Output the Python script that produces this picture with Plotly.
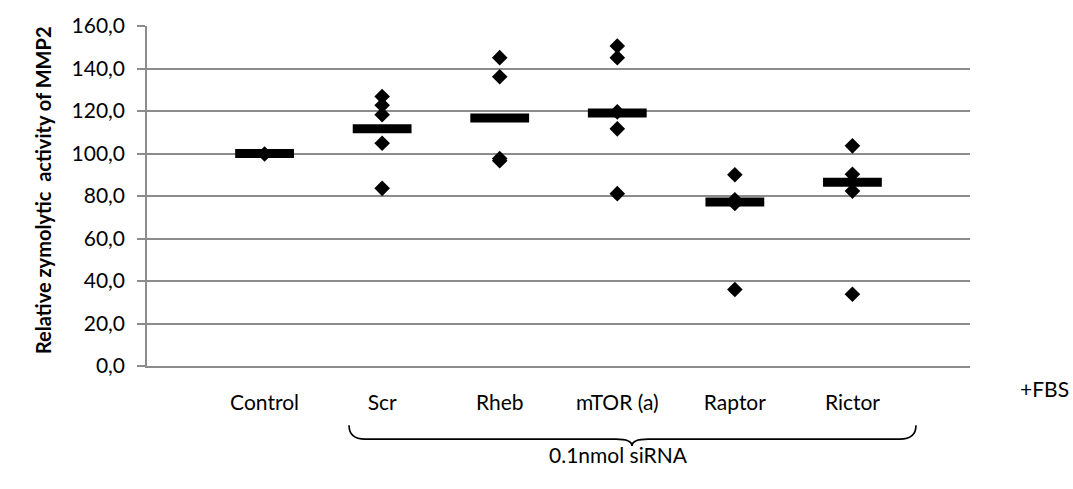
import plotly.graph_objects as go

# Groups shown on the x axis
categories = ["Control", "Scr", "Rheb", "mTOR (a)", "Raptor", "Rictor"]

# Individual measurements (relative zymolytic activity, % of control)
control_vals = [99.8]
scr_vals = [126.8, 122.7, 118.2, 104.8, 83.6]
rheb_vals = [145.1, 136.1, 97.6, 96.6]
mtor_vals = [150.6, 145.1, 119.6, 111.6, 81.1]
raptor_vals = [90.0, 78.2, 76.5, 36.0]
rictor_vals = [103.6, 90.2, 82.3, 33.8]

# Group means drawn as horizontal bars
mean_vals = [100.0, 111.6, 116.7, 119.1, 77.2, 86.5]

y_ticks = [0, 20, 40, 60, 80, 100, 120, 140, 160]

groups = [control_vals, scr_vals, rheb_vals, mtor_vals, raptor_vals, rictor_vals]
positions = list(range(1, len(categories) + 1))

pts_x, pts_y = [], []
for pos, vals in zip(positions, groups):
    pts_x.extend([pos] * len(vals))
    pts_y.extend(vals)

FONT = "Lato"
FS = 21
GRID = "#8c8c8c"

fig = go.Figure()

fig.add_trace(go.Scatter(
    x=positions, y=mean_vals, mode="markers",
    marker=dict(symbol="line-ew", size=42, color="black",
                line=dict(color="black", width=9)),
    hoverinfo="y", showlegend=False,
))

fig.add_trace(go.Scatter(
    x=pts_x, y=pts_y, mode="markers",
    marker=dict(symbol="diamond", size=12, color="black",
                line=dict(width=0)),
    showlegend=False,
))

# Plot-area geometry (pixels) used for the outer labels and brace
L, R, T, B = 147, 103, 22, 123
W, H = 1073, 489
pw, ph = W - L - R, H - T - B


def px(x):
    return (x - L) / pw


def py(y):
    return (H - B - y) / ph


# Curly brace under the siRNA groups
xl, xm, xr = 349, 632, 916
yt, yl, yb = 426, 440, 447
c = 16
brace = (
    f"M {px(xl)} {py(yt)} "
    f"Q {px(xl)} {py(yl)} {px(xl + c)} {py(yl)} "
    f"L {px(xm - c)} {py(yl)} "
    f"Q {px(xm)} {py(yl)} {px(xm)} {py(yb)} "
    f"Q {px(xm)} {py(yl)} {px(xm + c)} {py(yl)} "
    f"L {px(xr - c)} {py(yl)} "
    f"Q {px(xr)} {py(yl)} {px(xr)} {py(yt)}"
)
fig.add_shape(type="path", path=brace, xref="paper", yref="paper",
              line=dict(color="black", width=1.6))

fig.add_annotation(text="0.1nmol siRNA", x=px(618), y=py(470),
                   xref="paper", yref="paper", showarrow=False,
                   font=dict(family=FONT, size=FS, color="black"))
fig.add_annotation(text="+FBS", x=px(1071), y=py(403),
                   xref="paper", yref="paper", showarrow=False,
                   xanchor="right",
                   font=dict(family=FONT, size=FS, color="black"))
fig.add_annotation(text="<b>Relative zymolytic  activity of MMP2</b>",
                   x=px(29), y=py(188), xref="paper", yref="paper",
                   textangle=-90, showarrow=False,
                   font=dict(family=FONT, size=20, color="black"))

fig.update_layout(
    width=W, height=H,
    margin=dict(l=L, r=R, t=T, b=B),
    paper_bgcolor="white", plot_bgcolor="white",
    separators=",.",
    font=dict(family=FONT, size=FS, color="black"),
    xaxis=dict(
        range=[0, 7], tickvals=positions, ticktext=categories,
        showgrid=False, zeroline=False, showline=True,
        linecolor=GRID, linewidth=1.5, ticks="",
        ticklabelstandoff=17,
    ),
    yaxis=dict(
        range=[0, 160], tickvals=y_ticks, tickformat=".1f",
        showgrid=True, gridcolor=GRID, gridwidth=1.5,
        zeroline=False, showline=True, linecolor=GRID, linewidth=1.5,
        ticks="outside", ticklen=8, tickcolor=GRID, tickwidth=1.5,
        ticklabelstandoff=8,
    ),
)

fig.write_html("out.html")
